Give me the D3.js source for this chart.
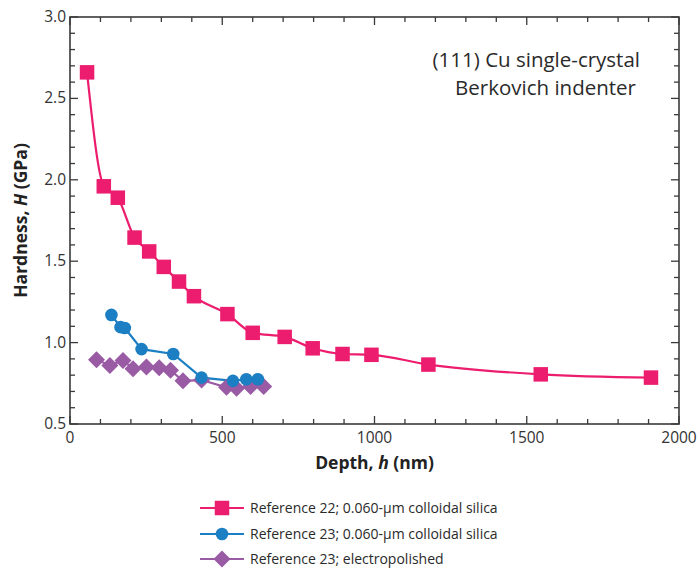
<!DOCTYPE html>
<html>
<head>
<meta charset="utf-8">
<script src="https://cdn.jsdelivr.net/npm/d3@7"></script>
<style>
  body { margin: 0; background: #fff; }
  svg text { font-family: "Open Sans", "Noto Sans", sans-serif; }
</style>
</head>
<body>
<div id="vis"></div>
<script>
// Reference 22; 0.060-um colloidal silica
const ref22Depth = [56, 111, 157, 212, 260, 308, 358, 407, 517, 600, 705, 797, 895, 990, 1177, 1546, 1908];
const ref22Hard = [2.66, 1.96, 1.89, 1.645, 1.56, 1.465, 1.375, 1.285, 1.175, 1.06, 1.035, 0.965, 0.93, 0.925, 0.865, 0.805, 0.785];

// Reference 23; 0.060-um colloidal silica
const ref23cDepth = [136, 166, 180, 235, 339, 432, 535, 579, 617];
const ref23cHard = [1.17, 1.095, 1.09, 0.96, 0.93, 0.785, 0.765, 0.775, 0.775];

// Reference 23; electropolished
const ref23eDepth = [87, 131, 174, 207, 251, 293, 330, 371, 432, 514, 547, 593, 636];
const ref23eHard = [0.895, 0.86, 0.89, 0.84, 0.85, 0.845, 0.83, 0.765, 0.77, 0.725, 0.72, 0.73, 0.73];

const xTicks = [0, 500, 1000, 1500, 2000];
const yTicks = [0.5, 1.0, 1.5, 2.0, 2.5, 3.0];

const legendLabels = [
  "Reference 22; 0.060-\u00b5m colloidal silica",
  "Reference 23; 0.060-\u00b5m colloidal silica",
  "Reference 23; electropolished"
];

const pink = "#ec1c6e", blue = "#1c7ec3", purple = "#9a5ba5";
const axisColor = "#3a3a3a";

const W = 699, H = 569;
const plot = {left: 70, right: 679, top: 17, bottom: 424};

const svg = d3.select("#vis").append("svg")
  .attr("width", W).attr("height", H);

const x = d3.scaleLinear().domain([0, 2000]).range([plot.left, plot.right]);
const y = d3.scaleLinear().domain([0.5, 3.0]).range([plot.bottom, plot.top]);

// frame
svg.append("rect")
  .attr("x", plot.left).attr("y", plot.top)
  .attr("width", plot.right - plot.left).attr("height", plot.bottom - plot.top)
  .attr("fill", "none").attr("stroke", axisColor).attr("stroke-width", 1.6);

// ticks, all pointing inward
const xMinor = d3.range(0, 2001, 100);
const yMinor = d3.range(5, 31, 1).map(d => d / 10);
const isMajorX = d => d % 500 === 0;
const isMajorY = d => Math.abs(d * 2 - Math.round(d * 2)) < 1e-6;

const ticks = svg.append("g").attr("stroke", axisColor).attr("stroke-width", 1.3);
xMinor.forEach(function(d){
  let len = isMajorX(d) ? 8 : 5;
  ticks.append("line").attr("x1", x(d)).attr("x2", x(d))
    .attr("y1", plot.bottom).attr("y2", plot.bottom - len);
  ticks.append("line").attr("x1", x(d)).attr("x2", x(d))
    .attr("y1", plot.top).attr("y2", plot.top + len);
});
yMinor.forEach(function(d){
  let len = isMajorY(d) ? 8 : 5;
  ticks.append("line").attr("y1", y(d)).attr("y2", y(d))
    .attr("x1", plot.left).attr("x2", plot.left + len);
  ticks.append("line").attr("y1", y(d)).attr("y2", y(d))
    .attr("x1", plot.right).attr("x2", plot.right - len);
});

// tick labels
svg.append("g").selectAll("text").data(xTicks).join("text")
  .attr("x", d => x(d)).attr("y", plot.bottom + 19)
  .attr("text-anchor", "middle").attr("font-size", 15.5).attr("fill", "#333")
  .text(d => d);

svg.append("g").selectAll("text").data(yTicks).join("text")
  .attr("x", plot.left - 4).attr("y", d => y(d) + 5)
  .attr("text-anchor", "end").attr("font-size", 15.5).attr("fill", "#333")
  .text(d => d.toFixed(1));

// axis titles
const xt = svg.append("text")
  .attr("x", (plot.left + plot.right) / 2).attr("y", 469)
  .attr("text-anchor", "middle").attr("font-size", 17.5).attr("font-weight", "bold").attr("fill", "#222");
xt.append("tspan").text("Depth, ");
xt.append("tspan").attr("font-style", "italic").text("h");
xt.append("tspan").text(" (nm)");

const yt = svg.append("text")
  .attr("transform", `translate(27,${(plot.top + plot.bottom) / 2}) rotate(-90)`)
  .attr("text-anchor", "middle").attr("font-size", 17.5).attr("font-weight", "bold").attr("fill", "#222");
yt.append("tspan").text("Hardness, ");
yt.append("tspan").attr("font-style", "italic").text("H");
yt.append("tspan").text(" (GPa)");

// annotation
svg.append("text").attr("x", 640).attr("y", 67).attr("text-anchor", "end")
  .attr("font-size", 20.5).attr("fill", "#2a2a2a").text("(111) Cu single-crystal");
svg.append("text").attr("x", 636).attr("y", 95).attr("text-anchor", "end")
  .attr("font-size", 20.5).attr("fill", "#2a2a2a").text("Berkovich indenter");

// series
const ref22 = ref22Depth.map((d, i) => [d, ref22Hard[i]]);
const ref23c = ref23cDepth.map((d, i) => [d, ref23cHard[i]]);
const ref23e = ref23eDepth.map((d, i) => [d, ref23eHard[i]]);

const smoothLine = d3.line().x(d => x(d[0])).y(d => y(d[1])).curve(d3.curveMonotoneX);
const straightLine = d3.line().x(d => x(d[0])).y(d => y(d[1]));

svg.append("path").datum(ref23e).attr("d", straightLine)
  .attr("fill", "none").attr("stroke", purple).attr("stroke-width", 2.2);
svg.append("path").datum(ref23c).attr("d", straightLine)
  .attr("fill", "none").attr("stroke", blue).attr("stroke-width", 2.2);
svg.append("path").datum(ref22).attr("d", smoothLine)
  .attr("fill", "none").attr("stroke", pink).attr("stroke-width", 2.2);

function square(g, cx, cy, s, c){
  g.append("rect").attr("x", cx - s / 2).attr("y", cy - s / 2)
    .attr("width", s).attr("height", s).attr("fill", c);
}
function circle(g, cx, cy, r, c){
  g.append("circle").attr("cx", cx).attr("cy", cy).attr("r", r).attr("fill", c);
}
function diamond(g, cx, cy, r, c){
  g.append("path").attr("d", `M${cx},${cy - r}L${cx + r},${cy}L${cx},${cy + r}L${cx - r},${cy}Z`)
    .attr("fill", c);
}

const marks = svg.append("g");
ref23e.forEach(d => diamond(marks, x(d[0]), y(d[1]), 8.5, purple));
ref23c.forEach(d => circle(marks, x(d[0]), y(d[1]), 6.3, blue));
ref22.forEach(d => square(marks, x(d[0]), y(d[1]), 14.5, pink));

// legend
const legendColors = [pink, blue, purple];
const legendShapes = [square, circle, diamond];
const legendSizes = [14.5, 6.3, 8.5];
const legendY = [508, 534, 559];
legendLabels.forEach(function(label, i){
  let g = svg.append("g");
  g.append("line").attr("x1", 200).attr("x2", 244)
    .attr("y1", legendY[i]).attr("y2", legendY[i])
    .attr("stroke", legendColors[i]).attr("stroke-width", 2.2);
  legendShapes[i](g, 222, legendY[i], legendSizes[i], legendColors[i]);
  g.append("text").attr("x", 250).attr("y", legendY[i] + 5)
    .attr("font-size", 14).attr("fill", "#2a2a2a").text(label);
});
</script>
</body>
</html>
